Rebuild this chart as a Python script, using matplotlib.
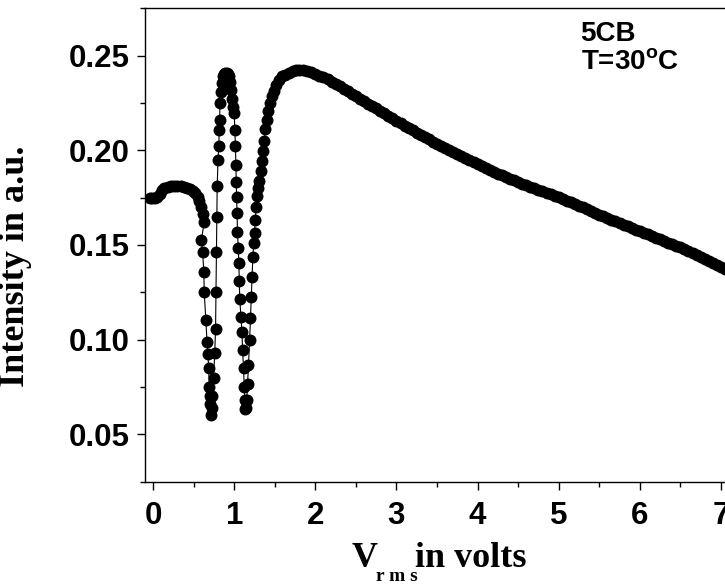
import matplotlib
matplotlib.use("Agg")
import matplotlib.pyplot as plt
from matplotlib.ticker import MultipleLocator, FormatStrFormatter

# flat start and the shoulder before the first dip
plateau_v = [-0.04, -0.01, 0.02, 0.05, 0.08, 0.11, 0.14, 0.18, 0.22, 0.26, 0.30, 0.34,
             0.38, 0.42, 0.46, 0.49, 0.52, 0.55, 0.57, 0.59, 0.61, 0.63]
plateau_I = [0.1750, 0.1748, 0.1750, 0.1755, 0.1770, 0.1790, 0.1802, 0.1808, 0.1810, 0.1810,
             0.1810, 0.1809, 0.1806, 0.1802, 0.1795, 0.1785, 0.1775, 0.1755, 0.1730, 0.1703,
             0.1665, 0.1620]

# first dip (down and back up)
dip1_v = [0.595, 0.610, 0.625, 0.630, 0.650, 0.665, 0.675, 0.685, 0.690, 0.700, 0.705, 0.712,
          0.720, 0.730, 0.745, 0.760, 0.770, 0.775, 0.780, 0.785, 0.790, 0.800, 0.810, 0.815]
dip1_I = [0.1527, 0.1465, 0.1359, 0.1253, 0.1103, 0.0990, 0.0927, 0.0850, 0.0750, 0.0700,
          0.0660, 0.0600, 0.0640, 0.0700, 0.0800, 0.0930, 0.1059, 0.1253, 0.1465, 0.1650,
          0.1810, 0.1950, 0.2021, 0.2109]

peak1_v = [0.820, 0.825, 0.835, 0.845, 0.860, 0.875, 0.890, 0.905, 0.920, 0.935, 0.950, 0.960,
           0.970, 0.980]
peak1_I = [0.2160, 0.2250, 0.2310, 0.2355, 0.2390, 0.2405, 0.2410, 0.2410, 0.2405, 0.2390,
           0.2360, 0.2320, 0.2270, 0.2230]

# second dip
dip2_v = [1.000, 1.008, 1.015, 1.020, 1.024, 1.029, 1.035, 1.040, 1.050, 1.058, 1.062, 1.068,
          1.083, 1.095, 1.103, 1.115, 1.124, 1.130, 1.136,
          1.145, 1.155, 1.165, 1.175, 1.190, 1.200, 1.210, 1.220, 1.230, 1.240, 1.250, 1.260,
          1.270]
dip2_I = [0.2197, 0.2109, 0.2021, 0.1924, 0.1835, 0.1756, 0.1668, 0.1571, 0.1482, 0.1403,
          0.1310, 0.1217, 0.1121, 0.1042, 0.0945, 0.0848, 0.0750, 0.0680, 0.0636,
          0.0640, 0.0680, 0.0768, 0.0865, 0.0997, 0.1112, 0.1226, 0.1332, 0.1438, 0.1509,
          0.1562, 0.1632, 0.1703]

rise_v = [1.28, 1.295, 1.31, 1.325, 1.34, 1.355, 1.37, 1.385, 1.40, 1.42, 1.44, 1.465, 1.49,
          1.52, 1.555, 1.59, 1.63, 1.68, 1.72, 1.76, 1.80]
rise_I = [0.1760, 0.1800, 0.1840, 0.1890, 0.1945, 0.1995, 0.2050, 0.2110, 0.2160, 0.2210,
          0.2250, 0.2285, 0.2315, 0.2345, 0.2373, 0.2390, 0.2400, 0.2410, 0.2420, 0.2426,
          0.2425]

# slow decay after the main maximum
decay_v = [1.85, 1.90, 1.95, 2.00, 2.05, 2.10, 2.15, 2.20, 2.25, 2.30, 2.35, 2.40, 2.45,
           2.50, 2.55, 2.60, 2.65, 2.70, 2.75, 2.80, 2.85, 2.90, 2.95, 3.00, 3.05, 3.10,
           3.15, 3.20, 3.25, 3.30, 3.35, 3.40, 3.45, 3.50, 3.55, 3.60, 3.65, 3.70, 3.75,
           3.80, 3.85, 3.90, 3.95, 4.00, 4.05, 4.10, 4.15, 4.20, 4.25, 4.30, 4.35, 4.40,
           4.45, 4.50, 4.55, 4.60, 4.65, 4.70, 4.75, 4.80, 4.85, 4.90, 4.95, 5.00, 5.05,
           5.10, 5.15, 5.20, 5.25, 5.30, 5.35, 5.40, 5.45, 5.50, 5.55, 5.60, 5.65, 5.70,
           5.75, 5.80, 5.85, 5.90, 5.95, 6.00, 6.05, 6.10, 6.15, 6.20, 6.25, 6.30, 6.35,
           6.40, 6.45, 6.50, 6.55, 6.60, 6.65, 6.70, 6.75, 6.80, 6.85, 6.90, 6.95, 7.00,
           7.05, 7.10]
decay_I = [0.2423, 0.2420, 0.2413, 0.2405, 0.2395, 0.2385, 0.2374, 0.2362, 0.2350, 0.2338,
           0.2325, 0.2312, 0.2299, 0.2286, 0.2273, 0.2260, 0.2247, 0.2234, 0.2221, 0.2208,
           0.2195, 0.2182, 0.2169, 0.2156, 0.2143, 0.2131, 0.2118, 0.2106, 0.2094, 0.2082,
           0.2070, 0.2058, 0.2046, 0.2035, 0.2023, 0.2012, 0.2001, 0.1990, 0.1979, 0.1968,
           0.1957, 0.1947, 0.1936, 0.1926, 0.1916, 0.1906, 0.1896, 0.1887, 0.1877, 0.1868,
           0.1859, 0.1850, 0.1841, 0.1833, 0.1824, 0.1816, 0.1808, 0.1800, 0.1792, 0.1784,
           0.1776, 0.1768, 0.1760, 0.1752, 0.1743, 0.1735, 0.1726, 0.1717, 0.1708, 0.1699,
           0.1690, 0.1680, 0.1671, 0.1661, 0.1652, 0.1643, 0.1634, 0.1625, 0.1616, 0.1607,
           0.1598, 0.1590, 0.1581, 0.1573, 0.1564, 0.1556, 0.1547, 0.1539, 0.1530, 0.1522,
           0.1513, 0.1505, 0.1496, 0.1487, 0.1477, 0.1468, 0.1458, 0.1448, 0.1437, 0.1427,
           0.1416, 0.1406, 0.1395, 0.1385, 0.1375, 0.1365]

volts = plateau_v + dip1_v + peak1_v + dip2_v + rise_v + decay_v
intensity = plateau_I + dip1_I + peak1_I + dip2_I + rise_I + decay_I

W, H = 725, 584
fig = plt.figure(figsize=(W / 100, H / 100), dpi=100)
ax = fig.add_axes([145 / W, (H - 481.7) / H, 584 / W, (481.7 - 8.3) / H])

ax.plot(volts, intensity, color="black", lw=0.8, marker="o", markersize=8.6,
        markerfacecolor="black", markeredgecolor="black", markeredgewidth=0)

ax.set_xlim(-0.1, 7.1)
ax.set_ylim(0.025, 0.275)
ax.xaxis.set_major_locator(MultipleLocator(1))
ax.xaxis.set_minor_locator(MultipleLocator(0.5))
ax.yaxis.set_major_locator(MultipleLocator(0.05))
ax.yaxis.set_minor_locator(MultipleLocator(0.025))
ax.yaxis.set_major_formatter(FormatStrFormatter("%.2f"))

for s in ax.spines.values():
    s.set_linewidth(1.0)
ax.tick_params(which="both", direction="out", width=1.0, top=False, right=False)
ax.tick_params(which="major", length=6)
ax.tick_params(which="minor", length=3.5)
ax.tick_params(axis="x", which="major", pad=8)
ax.tick_params(axis="y", which="major", pad=5)
for lab in ax.get_xticklabels() + ax.get_yticklabels():
    lab.set_fontfamily("Liberation Sans")
    lab.set_fontweight("bold")
    lab.set_fontsize(22.5)

# axis titles in a serif face
fig.text(16 / W, 1 - 266 / H, "Intensity in a.u.", rotation=90, ha="center", va="center",
         fontfamily="Liberation Serif", fontweight="bold", fontsize=26)
fig.text(352 / W, 1 - 567 / H, "V", ha="left", va="baseline",
         fontfamily="Liberation Serif", fontweight="bold", fontsize=26)
fig.text(376 / W, 1 - 581 / H, "r m s", ha="left", va="baseline",
         fontfamily="Liberation Serif", fontweight="bold", fontsize=14)
fig.text(415 / W, 1 - 567 / H, "in volts", ha="left", va="baseline",
         fontfamily="Liberation Serif", fontweight="bold", fontsize=26)

ax.text(5.27, 0.2576, "5CB", ha="left", va="baseline", fontfamily="Liberation Sans",
        fontweight="bold", fontsize=20)
ax.text(5.27, 0.2426, "T=30$^{\\mathregular{o}}$C", ha="left", va="baseline",
        fontfamily="Liberation Sans", fontweight="bold", fontsize=20)

fig.savefig("out.png", dpi=100)
